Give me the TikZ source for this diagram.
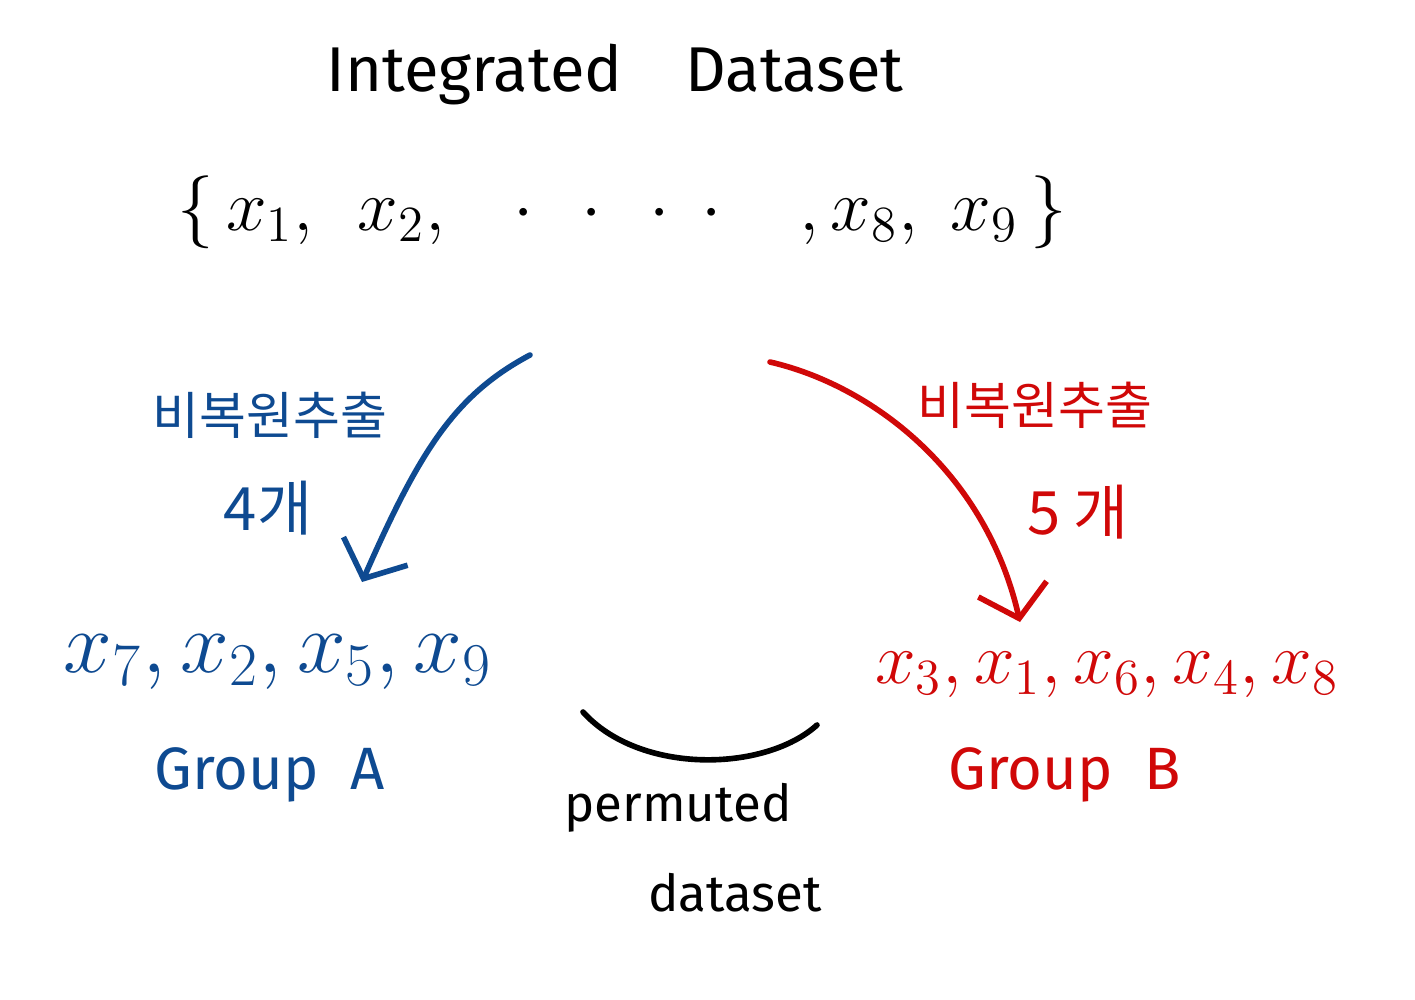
\documentclass[tikz,border=0pt]{standalone}
\usepackage{fontspec}
\setmainfont{Fira Sans}
\newfontfamily\korfont{Noto Sans CJK KR}
\definecolor{grpblue}{RGB}{14, 74, 145}
\definecolor{grpred}{RGB}{208, 8, 8}
\usetikzlibrary{arrows.meta}

\begin{document}
\begin{tikzpicture}[x=0.01cm, y=-0.01cm,
  pickline/.style={line width=1.6pt, line cap=round, -{Straight Barb[length=3mm, width=7mm, line width=1.6pt]}},
  kortext/.style={font=\korfont\fontsize{14.5}{17}\selectfont},
  settext/.style={font=\fontsize{22}{26}\selectfont},
  grptext/.style={font=\fontsize{17}{20}\selectfont}]
\useasboundingbox (0,0) rectangle (1415,1000);
% title and full set
\node[font=\fontsize{18}{22}\selectfont] (title) at (615,75) {Integrated\quad Dataset};
\node[settext] (set) at (622,212) {$\{\,x_1,\ \,x_2,\hspace{16pt}\cdot\hspace{9pt}\cdot\hspace{9pt}\cdot\hspace{9pt}\cdot\hspace{22pt},x_8,\ x_9\,\}$};
% sampling without replacement
\node[kortext, grpblue] (pickA) at (270,415) {비복원추출};
\node[kortext, grpblue, font=\korfont\fontsize{17}{20}\selectfont] (cntA) at (268,508) {4개};
\node[kortext, grpred] (pickB) at (1035,405) {비복원추출};
\node[kortext, grpred, font=\korfont\fontsize{17}{20}\selectfont] (cntB) at (1078,512) {5 개};
% groups
\node[font=\fontsize{23.5}{28}\selectfont, grpblue] (listA) at (278,662) {$x_7, x_2, x_5, x_9$};
\node[grptext, grpblue] (grpA) at (270,775) {Group\ \ A};
\node[font=\fontsize{21}{25}\selectfont, grpred] (listB) at (1107,675) {$x_3,x_1,x_6,x_4,x_8$};
\node[grptext, grpred] (grpB) at (1065,775) {Group\ \ B};
% permuted dataset
\node[font=\fontsize{14.5}{17}\selectfont] (perm) at (678,808) {permuted};
\node[font=\fontsize{14.5}{17}\selectfont] (data) at (735,893) {dataset};
% connectors
\coordinate (startA) at (530,355);
\coordinate (endA) at (362,582);
\coordinate (startB) at (770,362);
\coordinate (endB) at (1020,622);
\coordinate (arcL) at (583,712);
\coordinate (arcR) at (817,725);
\draw[pickline, grpblue] (startA) .. controls (455,395) and (420,450) .. (endA);
\draw[pickline, grpred] (startB) .. controls (870,385) and (985,470) .. (endB);
\draw[line width=1.6pt, line cap=round] (arcL) .. controls (640,775) and (765,772) .. (arcR);
\end{tikzpicture}
\end{document}
